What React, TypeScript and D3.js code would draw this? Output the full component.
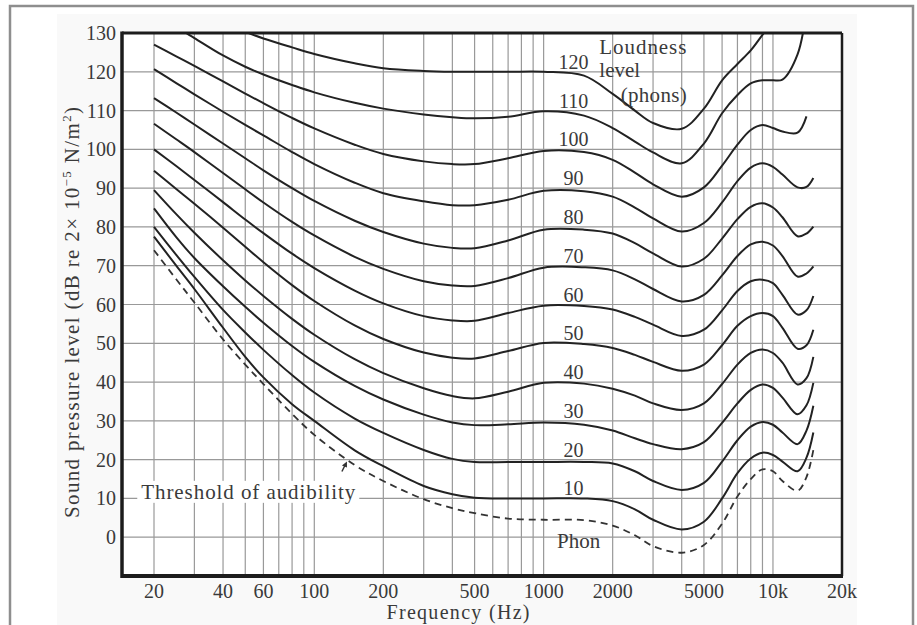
import React, { useEffect, useRef } from 'react';
import * as d3 from 'd3';

const freqs = [20, 25, 30, 40, 50, 60, 80, 100, 150, 200, 300, 400, 500, 700, 1000, 1500, 2000, 2500, 3000, 4000, 5000, 6000, 7000, 8000, 9000, 10000, 11000, 12800, 14000, 15000];

// sound pressure level (dB) for each curve, null where the curve is not drawn
const thresholdOfAudibility = [74, 66.5, 60.5, 51, 44.5, 39.5, 31.8, 26.4, 18.6, 14.5, 9.8, 7.5, 6.2, 4.8, 4.5, 4.4, 3, 0.5, -2.3, -4, -2, 3.5, 10.5, 15, 17.5, 17, 14.5, 12, 15.5, 22.5];
const phon10 = [77.5, 70, 64, 54, 46.5, 41.2, 34.3, 30, 22.4, 18.3, 13.2, 11.1, 10.2, 10, 10, 10, 9.3, 7.2, 4.5, 2, 4, 10, 16.5, 20.3, 21.8, 21.2, 19.5, 17, 20.5, 27];
const phon20 = [80, 72.8, 67.1, 58.6, 52.8, 48.3, 41.8, 37.3, 30.6, 26.9, 22.5, 20.2, 19.4, 19.4, 19.4, 19.4, 19, 17, 14.5, 12.2, 14, 19.5, 25, 28.5, 29.7, 29, 27, 24, 27.5, 33.9];
const phon30 = [84.8, 77.4, 72, 64.7, 59.4, 55.3, 49.3, 45.2, 39, 35.5, 31.6, 29.6, 28.9, 29.1, 29.6, 29, 27.5, 25.5, 24, 22.7, 24.5, 29.5, 34.5, 38, 39.4, 38.5, 36, 31.7, 34, 39.8];
const phon40 = [89.5, 83.3, 78.5, 71.4, 66.2, 62.2, 56.3, 52.2, 45.9, 42.3, 38.4, 36.4, 35.8, 37.5, 39.8, 39.6, 38.3, 36.5, 34.5, 32.8, 34.5, 39.5, 44.5, 47.5, 48.4, 47.5, 45, 39.4, 41, 46.5];
const phon50 = [94.5, 89.8, 86, 79.8, 74.9, 70.9, 65, 60.9, 54.6, 51.1, 47.6, 46.3, 46.1, 48, 50.1, 49.8, 48.8, 47, 45.2, 42.9, 44.5, 49.5, 54.5, 57, 57.8, 57, 54, 48.6, 49.5, 53.5];
const phon60 = [100, 95.7, 92.1, 86.4, 81.9, 78.4, 73.1, 69.4, 63.6, 60.3, 57, 55.9, 55.8, 57.8, 59.7, 59.6, 58.7, 56.8, 54.8, 51.9, 53.5, 58.5, 63.5, 66, 66.4, 65.5, 62.5, 57.4, 58.5, 62.2];
const phon70 = [106.6, 102.6, 99.3, 93.9, 89.7, 86.3, 81.3, 77.8, 72.3, 69.2, 66, 64.9, 64.8, 66.8, 69.5, 69.6, 68.8, 66.5, 64, 60.8, 62.5, 67.5, 72.5, 75.5, 76.2, 75.2, 72.5, 67.2, 68, 69.8];
const phon80 = [113.2, 109.5, 106.4, 101.5, 97.7, 94.6, 90, 86.7, 81.6, 78.7, 75.7, 74.6, 74.5, 76.5, 79.3, 79.3, 78.3, 75.8, 73.2, 69.8, 71.8, 77, 82, 85.2, 86.1, 85, 82.5, 77.6, 78.3, 80.1];
const phon90 = [120.7, 117.1, 114.2, 109.7, 106.3, 103.6, 99.3, 96.2, 91.4, 88.7, 86.6, 85.6, 85.6, 87, 89.3, 89.2, 87.8, 85, 82.2, 78.8, 81, 86.3, 91.8, 95.3, 96.4, 95.5, 93.5, 90.2, 90.3, 92.6];
const phon100 = [127, 124, 121.5, 117.5, 114.4, 111.9, 108.1, 105.4, 101.2, 98.8, 96.9, 96.2, 96.2, 97.7, 99.6, 99.3, 97.3, 94, 91, 87.8, 90.2, 95.8, 101.2, 105, 106.3, 105.5, 104.6, 104.3, 108.5, null];
const phon110 = [135.5, 131.6, 128.7, 124.2, 121.3, 119.3, 116.6, 114.7, 112, 110.5, 109, 108.3, 108, 108.4, 109.8, 108.7, 105.5, 102, 99.2, 96.4, 101.5, 109.3, 114, 117, 117.8, 117.8, 118, 124.5, 136, null];
const phon120 = [null, null, 136, 132.6, 130.3, 128.6, 126.3, 124.6, 122.2, 120.9, 120.2, 120, 120, 120, 120, 119, 114.3, 110, 106.8, 105.3, 110.5, 117.8, 122, 125.5, 129.5, 133, null, null, null, null];

const phonLevels = [10, 20, 30, 40, 50, 60, 70, 80, 90, 100, 110, 120];
const contours = [phon10, phon20, phon30, phon40, phon50, phon60, phon70, phon80, phon90, phon100, phon110, phon120];

const xTickValues = [20, 40, 60, 100, 200, 500, 1000, 2000, 5000, 10000, 20000];
const xTickLabels = ['20', '40', '60', '100', '200', '500', '1000', '2000', '5000', '10k', '20k'];
const yTickValues = [0, 10, 20, 30, 40, 50, 60, 70, 80, 90, 100, 110, 120, 130];

const W = 917;
const H = 625;
const plot = { left: 122, top: 33, right: 842, bottom: 576 };
const serif = "'Liberation Serif', 'DejaVu Serif', serif";
const ink = '#3a3a3a';

export default function App() {
  const ref = useRef<SVGSVGElement>(null);

  useEffect(() => {
    const svg = d3.select(ref.current);
    svg.selectAll('*').remove();

    const x = d3.scaleLog().domain([20, 20000]).range([154, plot.right]);
    const y = d3.scaleLinear().domain([-10, 130]).range([plot.bottom, plot.top]);

    // page, scan border and paper
    svg.append('rect').attr('width', W).attr('height', H).attr('fill', '#fff');
    svg.append('rect').attr('x', 10).attr('y', 6).attr('width', 903).attr('height', 680)
      .attr('fill', '#fff').attr('stroke', '#8e8e8e').attr('stroke-width', 2.5);
    svg.append('rect').attr('x', 57).attr('y', 14).attr('width', 800).attr('height', 680).attr('fill', '#f9f9f9');
    svg.append('rect').attr('x', plot.left).attr('y', plot.top)
      .attr('width', plot.right - plot.left).attr('height', plot.bottom - plot.top).attr('fill', '#fff');

    svg.append('clipPath').attr('id', 'plot-clip').append('rect')
      .attr('x', plot.left).attr('y', plot.top)
      .attr('width', plot.right - plot.left).attr('height', plot.bottom - plot.top);

    // grid
    const grid = svg.append('g').attr('stroke', '#999').attr('stroke-width', 1.2);
    grid.selectAll('line.v').data(x.ticks()).join('line').attr('class', 'v')
      .attr('x1', d => x(d)).attr('x2', d => x(d))
      .attr('y1', plot.top).attr('y2', plot.bottom);
    grid.selectAll('line.h').data(yTickValues.filter(d => d < 130)).join('line').attr('class', 'h')
      .attr('x1', plot.left).attr('x2', plot.right)
      .attr('y1', d => y(d)).attr('y2', d => y(d));

    // the threshold label sits on a blank patch of the grid
    svg.append('rect').attr('x', x(17.6) - 4).attr('y', y(11.7) - 11)
      .attr('width', 222).attr('height', 22).attr('fill', '#fff');

    const line = d3.line<number | null>()
      .defined(d => d != null)
      .x((_, i) => x(freqs[i]))
      .y(d => y(d as number))
      .curve(d3.curveCatmullRom.alpha(0.5));

    const curves = svg.append('g').attr('clip-path', 'url(#plot-clip)').attr('fill', 'none');
    curves.selectAll('path.phon').data(contours).join('path').attr('class', 'phon')
      .attr('d', d => line(d))
      .attr('stroke', '#222').attr('stroke-width', 2);
    curves.append('path').attr('d', line(thresholdOfAudibility))
      .attr('stroke', '#333').attr('stroke-width', 1.8).attr('stroke-dasharray', '7,5');

    // tick labels
    const text = (g: any) => g.attr('font-family', serif).attr('fill', ink);
    svg.append('g').call(text).attr('font-size', 20).attr('text-anchor', 'end')
      .selectAll('text').data(yTickValues).join('text')
      .attr('x', plot.left - 6).attr('y', d => y(d)).attr('dy', '0.35em').text(d => d);
    svg.append('g').call(text).attr('font-size', 20).attr('text-anchor', 'middle')
      .selectAll('text').data(xTickValues).join('text')
      .attr('x', d => x(d)).attr('y', plot.bottom + 15).attr('dy', '0.35em')
      .text((_, i) => xTickLabels[i]);

    // curve labels
    svg.append('g').call(text).attr('font-size', 20).attr('text-anchor', 'middle')
      .selectAll('text').data(phonLevels).join('text')
      .attr('x', x(1350)).attr('y', d => y(d) - 10).attr('dy', '0.35em').text(d => d);
    svg.append('text').call(text).attr('font-size', 21).attr('text-anchor', 'middle')
      .attr('x', x(1420)).attr('y', y(0) + 3).attr('dy', '0.35em').text('Phon');

    const ll = svg.append('g').call(text).attr('font-size', 21);
    ll.append('text').attr('x', x(1750)).attr('y', y(126.5)).attr('dy', '0.35em')
      .attr('textLength', 87).text('Loudness');
    ll.append('text').attr('x', x(1750)).attr('y', y(120.5)).attr('dy', '0.35em').text('level');
    ll.append('text').attr('x', x(2000) + 8).attr('y', y(114)).attr('dy', '0.35em')
      .attr('textLength', 66).text('(phons)');

    svg.append('text').call(text).attr('font-size', 21)
      .attr('x', x(17.6)).attr('y', y(11.7)).attr('dy', '0.35em')
      .attr('textLength', 214).text('Threshold of audibility');
    // little pointer from the label to the dashed curve
    const ax = x(136);
    const ay = y(19);
    svg.append('path')
      .attr('d', `M${ax - 3},${ay + 8} L${ax + 1},${ay}`)
      .attr('stroke', '#333').attr('stroke-width', 1.5);
    svg.append('path')
      .attr('d', `M${ax + 2},${ay - 2} L${ax - 3},${ay + 2} L${ax + 2},${ay + 4} Z`)
      .attr('fill', '#333');

    // axis titles
    svg.append('text').call(text).attr('font-size', 20).attr('text-anchor', 'middle')
      .attr('x', 458).attr('y', 613).attr('dy', '0.32em')
      .attr('textLength', 143).text('Frequency (Hz)');

    const yt = svg.append('text').call(text).attr('font-size', 21).attr('text-anchor', 'middle')
      .attr('transform', 'translate(72,312.5) rotate(-90)')
      .attr('dy', '0.35em').attr('textLength', 411);
    yt.append('tspan').text('Sound pressure level (dB re 2\u00d7 10');
    yt.append('tspan').attr('dy', -8).attr('font-size', 13).text('\u22125');
    yt.append('tspan').attr('dy', 8).text(' N/m');
    yt.append('tspan').attr('dy', -8).attr('font-size', 13).text('2');
    yt.append('tspan').attr('dy', 8).text(')');

    // heavy frame of the chart
    const frame = svg.append('g').attr('stroke', '#1c1c1c').attr('fill', 'none');
    frame.append('line').attr('x1', plot.left).attr('x2', plot.left)
      .attr('y1', plot.top - 1.5).attr('y2', plot.bottom + 2).attr('stroke-width', 3.5);
    frame.append('line').attr('x1', plot.left).attr('x2', plot.right)
      .attr('y1', plot.top).attr('y2', plot.top).attr('stroke-width', 3);
    frame.append('line').attr('x1', plot.left).attr('x2', plot.right + 1)
      .attr('y1', plot.bottom).attr('y2', plot.bottom).attr('stroke-width', 4);
    frame.append('line').attr('x1', plot.right).attr('x2', plot.right)
      .attr('y1', plot.top).attr('y2', plot.bottom).attr('stroke-width', 2.5);
  }, []);

  return (
    <svg ref={ref} width={W} height={H}
      style={{ position: 'absolute', left: 0, top: 0, display: 'block' }} />
  );
}
